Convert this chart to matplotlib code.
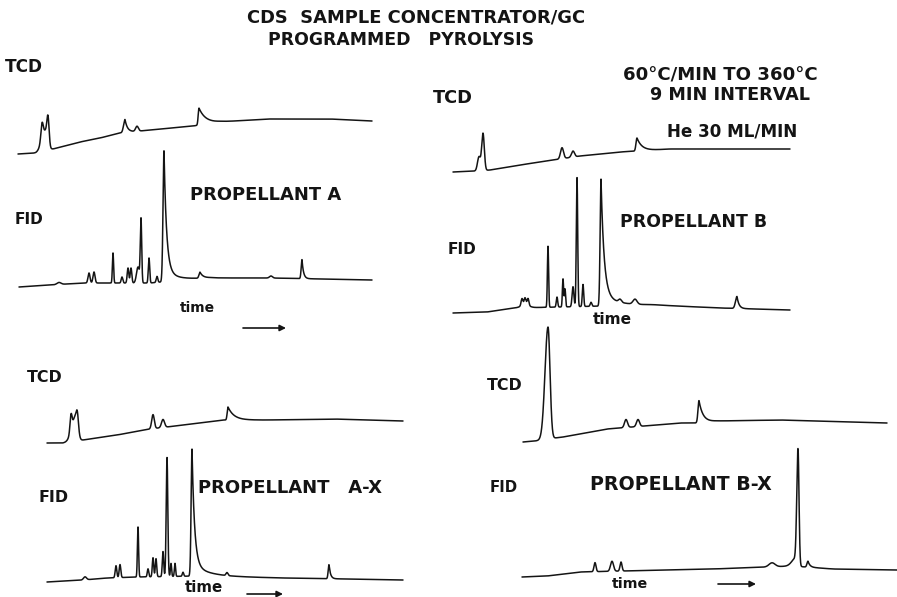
import numpy as np
import matplotlib
matplotlib.use('Agg')
import matplotlib.pyplot as plt

# ------------------------------------------------------------------
# DATA.  Each trace: baseline knots (time, signal)
# and a list of peaks (retention time, height, left width, right width, tail)
# time/signal units are arbitrary chart units measured from the trace start
# ------------------------------------------------------------------
# Propellant A - TCD
A_TCD_BASE_T = [0, 18, 35, 62, 82, 102, 132, 175, 202, 249, 312, 354]
A_TCD_BASE_S = [0, 1, 5, 12, 16, 21, 24, 28, 32, 35, 35, 33]
A_TCD_PK_T = [27, 24, 30, 107, 119, 181]
A_TCD_PK_H = [20, 15, 25, 13, 5, 17]
A_TCD_PK_WL = [3.5, 1.1, 1.1, 1.4, 1.4, 0.8]
A_TCD_PK_WR = [2.5, 1.1, 1.1, 1.4, 1.4, 0.8]
A_TCD_PK_TAIL = [0, 0, 0, 2.5, 0, 7]

# Propellant A - FID
A_FID_BASE_T = [0, 31, 64, 131, 165, 190, 252, 353]
A_FID_BASE_S = [0, 2, 4, 4, 7, 9, 9, 7]
A_FID_PK_T = [40, 70, 75, 94, 103, 109, 112, 119, 122, 130, 138, 145, 145, 181, 252, 283]
A_FID_PK_H = [2, 10, 11, 30, 6, 15, 15, 16, 63, 25, 6, 119, 12, 6, 2, 19]
A_FID_PK_WL = [2, 1, 1, 0.6, 0.8, 0.8, 0.8, 1.5, 0.7, 0.7, 0.8, 1.0, 0.6, 1.0, 1.5, 0.8]
A_FID_PK_WR = [2, 1, 1, 0.6, 0.8, 0.8, 0.8, 1.5, 0.7, 0.7, 0.8, 1.0, 0.6, 1.0, 1.5, 0.8]
A_FID_PK_TAIL = [0, 0, 0, 0, 0, 0, 0, 0, 0, 0, 0, 2.5, 12, 3, 0, 1.5]

# Propellant B - TCD
B_TCD_BASE_T = [0, 23, 37, 67, 107, 127, 167, 217, 337]
B_TCD_BASE_S = [0, 1, 2, 7, 13, 16, 20, 23, 23]
B_TCD_PK_T = [26, 30, 109, 120, 184]
B_TCD_PK_H = [14, 37, 11, 6, 13]
B_TCD_PK_WL = [1.5, 1.3, 1.5, 1.5, 1.0]
B_TCD_PK_WR = [1.5, 1.3, 1.5, 1.5, 1.0]
B_TCD_PK_TAIL = [0, 0, 0, 0, 5]

# Propellant B - FID
B_FID_BASE_T = [0, 34, 60, 107, 150, 200, 267, 337]
B_FID_BASE_S = [0, 1, 5, 6, 7, 8, 5, 3]
B_FID_PK_T = [72, 69, 72, 75, 95, 104, 110, 112, 120, 124, 130, 138, 148, 148, 167, 182, 284]
B_FID_PK_H = [3, 7, 7, 7, 61, 10, 28, 18, 20, 129, 22, 4, 115, 12, 3, 5, 12]
B_FID_PK_WL = [4, 0.9, 0.9, 0.9, 0.6, 0.7, 0.6, 0.6, 0.9, 0.7, 0.7, 0.8, 0.9, 0.6, 1.5, 2, 1.5]
B_FID_PK_WR = [4, 0.9, 0.9, 0.9, 0.6, 0.7, 0.6, 0.6, 0.9, 0.7, 0.7, 0.8, 0.9, 0.6, 1.5, 2, 1.5]
B_FID_PK_TAIL = [0, 0, 0, 0, 0, 0, 0, 0, 0, 0, 0, 0, 3, 15, 0, 0, 2]

# Propellant A-X - TCD
AX_TCD_BASE_T = [0, 16, 36, 70, 103, 153, 176, 220, 286, 356]
AX_TCD_BASE_S = [0, 0, 3, 8, 14, 20, 23, 23, 24, 22]
AX_TCD_PK_T = [29, 24, 30.5, 106, 116, 181]
AX_TCD_PK_H = [26, 16, 9, 14, 8, 13]
AX_TCD_PK_WL = [4.0, 1.0, 1.0, 1.3, 1.5, 0.8]
AX_TCD_PK_WR = [2.0, 1.0, 1.0, 1.3, 1.5, 0.8]
AX_TCD_PK_TAIL = [0, 0, 0, 0, 0, 6]

# Propellant A-X - FID
AX_FID_BASE_T = [0, 36, 60, 90, 150, 236, 300, 356]
AX_FID_BASE_S = [0, 2, 4, 5, 6, 4, 3, 2]
AX_FID_PK_T = [38, 69, 73, 91, 101, 106, 109, 116, 120, 124, 128, 136, 145, 145, 180, 282]
AX_FID_PK_H = [3, 12, 13, 50, 8, 19, 18, 25, 119, 13, 13, 4, 115, 12, 3, 14]
AX_FID_PK_WL = [1.5, 0.8, 0.8, 0.6, 0.7, 0.7, 0.7, 0.7, 0.8, 0.6, 0.6, 0.7, 0.9, 0.6, 1, 0.8]
AX_FID_PK_WR = [1.5, 0.8, 0.8, 0.6, 0.7, 0.7, 0.7, 0.7, 0.8, 0.6, 0.6, 0.7, 0.9, 0.6, 1, 0.8]
AX_FID_PK_TAIL = [0, 0, 0, 0, 0, 0, 0, 0, 0, 0, 0, 0, 2.5, 15, 0, 1.5]

# Propellant B-X - TCD
BX_TCD_BASE_T = [0, 12, 32, 40, 84, 97, 157, 172, 194, 257, 364]
BX_TCD_BASE_S = [0, 1, 4, 5, 13, 14, 19, 19, 21, 22, 19]
BX_TCD_PK_T = [25, 103, 115, 176]
BX_TCD_PK_H = [112, 8, 7, 22]
BX_TCD_PK_WL = [3.0, 1.5, 1.5, 1.0]
BX_TCD_PK_WR = [2.0, 1.5, 1.5, 1.0]
BX_TCD_PK_TAIL = [0, 0, 0, 4]

# Propellant B-X - FID
BX_FID_BASE_T = [0, 25, 58, 100, 191, 245, 270, 311, 375]
BX_FID_BASE_S = [0, 1, 5, 6, 8, 10, 11, 8, 7]
BX_FID_PK_T = [73, 90, 99, 250, 274, 276, 286]
BX_FID_PK_H = [9, 10, 9, 4, 8, 113, 6]
BX_FID_PK_WL = [1, 1.5, 1, 3, 4, 1.2, 1]
BX_FID_PK_WR = [1, 1.5, 1, 3, 2, 1.0, 1]
BX_FID_PK_TAIL = [0, 0, 0, 0, 0, 0, 2]

# ------------------------------------------------------------------
# LAYOUT (figure pixels): trace origin (left x, baseline y) and length
# ------------------------------------------------------------------
TRACES = [
    ((18, 154), 354, A_TCD_BASE_T, A_TCD_BASE_S, A_TCD_PK_T, A_TCD_PK_H, A_TCD_PK_WL, A_TCD_PK_WR, A_TCD_PK_TAIL),
    ((19, 287), 353, A_FID_BASE_T, A_FID_BASE_S, A_FID_PK_T, A_FID_PK_H, A_FID_PK_WL, A_FID_PK_WR, A_FID_PK_TAIL),
    ((453, 172), 337, B_TCD_BASE_T, B_TCD_BASE_S, B_TCD_PK_T, B_TCD_PK_H, B_TCD_PK_WL, B_TCD_PK_WR, B_TCD_PK_TAIL),
    ((453, 313), 337, B_FID_BASE_T, B_FID_BASE_S, B_FID_PK_T, B_FID_PK_H, B_FID_PK_WL, B_FID_PK_WR, B_FID_PK_TAIL),
    ((47, 443), 356, AX_TCD_BASE_T, AX_TCD_BASE_S, AX_TCD_PK_T, AX_TCD_PK_H, AX_TCD_PK_WL, AX_TCD_PK_WR, AX_TCD_PK_TAIL),
    ((47, 582), 356, AX_FID_BASE_T, AX_FID_BASE_S, AX_FID_PK_T, AX_FID_PK_H, AX_FID_PK_WL, AX_FID_PK_WR, AX_FID_PK_TAIL),
    ((523, 442), 364, BX_TCD_BASE_T, BX_TCD_BASE_S, BX_TCD_PK_T, BX_TCD_PK_H, BX_TCD_PK_WL, BX_TCD_PK_WR, BX_TCD_PK_TAIL),
    ((522, 577), 375, BX_FID_BASE_T, BX_FID_BASE_S, BX_FID_PK_T, BX_FID_PK_H, BX_FID_PK_WL, BX_FID_PK_WR, BX_FID_PK_TAIL),
]

# text: (string, left x, centre y, target width) in figure pixels
TEXTS = [
    ("CDS  SAMPLE CONCENTRATOR/GC", 247, 18, 340),
    ("PROGRAMMED   PYROLYSIS", 268, 40, 265),
    ("TCD", 5, 67, 38),
    ("60°C/MIN TO 360°C", 623, 75, 195),
    ("9 MIN INTERVAL", 650, 95, 160),
    ("TCD", 433, 98, 40),
    ("He 30 ML/MIN", 667, 132, 131),
    ("FID", 15, 219, 29),
    ("PROPELLANT A", 190, 195, 152),
    ("time", 180, 308, 35),
    ("FID", 448, 250, 29),
    ("PROPELLANT B", 620, 222, 148),
    ("time", 593, 320, 39),
    ("TCD", 27, 378, 36),
    ("FID", 38, 497, 30),
    ("PROPELLANT   A-X", 198, 488, 185),
    ("time", 185, 587, 38),
    ("TCD", 487, 385, 36),
    ("FID", 490, 487, 28),
    ("PROPELLANT B-X", 590, 485, 183),
    ("time", 612, 584, 36),
]
ARROWS = [((243, 328), (286, 328)), ((247, 594), (283, 594)), ((718, 584), (756, 584))]

INK = '#141414'
W, H = 897, 597


def signal(t, bt, bs, pt, ph, pwl, pwr, ptail):
    s = np.interp(t, bt, bs)
    for t0, h, wl, wr, tau in zip(pt, ph, pwl, pwr, ptail):
        dt = t - t0
        left = h * np.exp(-0.5 * (dt / wl) ** 2)
        if tau > 0:
            right = h * np.exp(-np.clip(dt, 0, None) / tau)
        else:
            right = h * np.exp(-0.5 * (dt / wr) ** 2)
        s = s + np.where(dt < 0, left, right)
    return s


fig = plt.figure(figsize=(W / 100, H / 100), dpi=100)
fig.patch.set_facecolor('white')

# root axes for text, in pixel layout coordinates
root = fig.add_axes([0, 0, 1, 1])
root.set_xlim(0, W)
root.set_ylim(H, 0)
root.axis('off')

for (x0, y0), tlen, bt, bs, pt, ph, pwl, pwr, ptail in TRACES:
    ax = fig.add_axes([0, 0, 1, 1])
    ax.patch.set_alpha(0)
    ax.set_xlim(-x0, W - x0)
    ax.set_ylim(y0 - H, y0)
    ax.axis('off')
    t = np.linspace(0, tlen, 8000)
    ax.plot(t, signal(t, bt, bs, pt, ph, pwl, pwr, ptail), color=INK, lw=1.1,
            solid_joinstyle='round', solid_capstyle='round')

fig.canvas.draw()
renderer = fig.canvas.get_renderer()
for s, x, y, w in TEXTS:
    txt = root.text(x, y, s, ha='left', va='center', fontsize=10,
                    fontweight='bold', family='DejaVu Sans', color=INK)
    ext = txt.get_window_extent(renderer)
    txt.set_fontsize(10 * w / ext.width)

for (xa, ya), (xb, yb) in ARROWS:
    root.annotate('', xy=(xb, yb), xytext=(xa, ya),
                  arrowprops=dict(arrowstyle='-|>', color=INK, lw=1.2,
                                  mutation_scale=9, shrinkA=0, shrinkB=0))

fig.savefig('out.png', dpi=100, facecolor='white')
